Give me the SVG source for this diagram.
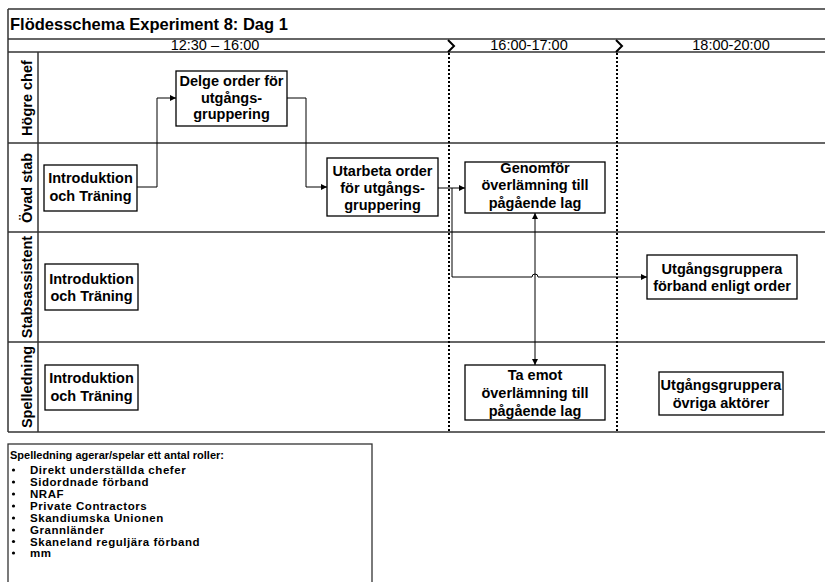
<svg xmlns="http://www.w3.org/2000/svg" width="825" height="582" viewBox="0 0 825 582">
<style>
.frame{stroke:#333;stroke-width:1.5;fill:none}
.dot{stroke:#000;stroke-width:2;stroke-dasharray:2,2;fill:none}
.box{fill:#fff;stroke:#000;stroke-width:1.3}
.conn{stroke:#000;stroke-width:1;fill:none}
.t{font-family:"Liberation Sans",Arial,sans-serif;font-weight:bold;font-size:14.5px;text-anchor:middle;fill:#000}
.lane{font-family:"Liberation Sans",Arial,sans-serif;font-weight:bold;font-size:14.5px;text-anchor:middle;fill:#000}
.hdr{font-family:"Liberation Sans",Arial,sans-serif;font-size:14.5px;text-anchor:middle;fill:#000}
.leg{font-family:"Liberation Sans",Arial,sans-serif;font-weight:bold;font-size:11.5px;letter-spacing:0.55px;fill:#000}
</style>
<defs>
<marker id="arr" markerUnits="userSpaceOnUse" markerWidth="7" markerHeight="6" refX="6" refY="3" orient="auto-start-reverse">
<path d="M0,0 L6,3 L0,6 z" fill="#000"/>
</marker>
</defs>
<rect width="825" height="582" fill="#fff"/>
<g id="frame">
<line class="frame" x1="8" y1="9" x2="825" y2="9"/>
<line class="frame" x1="8" y1="9" x2="8" y2="432"/>
<line class="frame" x1="8" y1="39" x2="825" y2="39"/>
<line class="frame" x1="8" y1="52" x2="825" y2="52"/>
<line class="frame" x1="8" y1="143" x2="825" y2="143"/>
<line class="frame" x1="8" y1="232" x2="825" y2="232"/>
<line class="frame" x1="8" y1="342" x2="825" y2="342"/>
<line class="frame" x1="8" y1="432" x2="825" y2="432"/>
<line class="frame" x1="38" y1="52" x2="38" y2="432"/>
<line class="dot" x1="449" y1="53" x2="449" y2="432"/>
<line class="dot" x1="617" y1="53" x2="617" y2="432"/>
<polyline points="448,40 454,46 448,52" fill="none" stroke="#000" stroke-width="2"/>
<polyline points="616,40 622,46 616,52" fill="none" stroke="#000" stroke-width="2"/>
<text x="10" y="30" font-family="Liberation Sans, Arial, sans-serif" font-weight="bold" font-size="16.5">Flödesschema Experiment 8: Dag 1</text>
<text class="hdr" x="215" y="50">12:30 – 16:00</text>
<text class="hdr" x="529" y="50">16:00-17:00</text>
<text class="hdr" x="731" y="50">18:00-20:00</text>
<text class="lane" transform="translate(32,98) rotate(-90)">Högre chef</text>
<text class="lane" transform="translate(32,188) rotate(-90)">Övad stab</text>
<text class="lane" transform="translate(32,287) rotate(-90)">Stabsassistent</text>
<text class="lane" transform="translate(32,387) rotate(-90)">Spelledning</text>
</g>
<g id="connectors">
<path class="conn" d="M137,187 H157 V98 H176" marker-end="url(#arr)"/>
<path class="conn" d="M287,98 H306 V187 H327" marker-end="url(#arr)"/>
<path class="conn" d="M438,188 H465" marker-end="url(#arr)"/>
<path class="conn" d="M452,188 V277 H532 A3,3 0 0 1 538,277 H647" marker-end="url(#arr)"/>
<path class="conn" d="M535,213 V365" marker-start="url(#arr)" marker-end="url(#arr)"/>
</g>
<g id="n-delge">
<rect class="box" x="176" y="71" width="111" height="55"/>
<text class="t" x="231.5" y="86">Delge order för</text>
<text class="t" x="231.5" y="103">utgångs-</text>
<text class="t" x="231.5" y="119">gruppering</text>
</g>
<g id="n-intro1">
<rect class="box" x="44" y="165" width="93" height="46"/>
<text class="t" x="90.5" y="183">Introduktion</text>
<text class="t" x="90.5" y="201">och Träning</text>
</g>
<g id="n-utarbeta">
<rect class="box" x="327" y="158" width="111" height="58"/>
<text class="t" x="382.5" y="176">Utarbeta order</text>
<text class="t" x="382.5" y="193">för utgångs-</text>
<text class="t" x="382.5" y="210">gruppering</text>
</g>
<g id="n-genomfor">
<rect class="box" x="465" y="162" width="140" height="51"/>
<text class="t" x="535" y="173">Genomför</text>
<text class="t" x="535" y="190">överlämning till</text>
<text class="t" x="535" y="208">pågående lag</text>
</g>
<g id="n-intro2">
<rect class="box" x="45" y="264" width="93" height="46"/>
<text class="t" x="91.5" y="284">Introduktion</text>
<text class="t" x="91.5" y="301">och Träning</text>
</g>
<g id="n-forband">
<rect class="box" x="647" y="255" width="150" height="44"/>
<text class="t" x="722" y="274">Utgångsgruppera</text>
<text class="t" x="722" y="291">förband enligt order</text>
</g>
<g id="n-intro3">
<rect class="box" x="45" y="365" width="93" height="45"/>
<text class="t" x="91.5" y="383">Introduktion</text>
<text class="t" x="91.5" y="401">och Träning</text>
</g>
<g id="n-taemot">
<rect class="box" x="465" y="365" width="140" height="55"/>
<text class="t" x="535" y="380">Ta emot</text>
<text class="t" x="535" y="398">överlämning till</text>
<text class="t" x="535" y="416">pågående lag</text>
</g>
<g id="n-ovriga">
<rect class="box" x="659" y="372" width="124" height="43"/>
<text class="t" x="721" y="390">Utgångsgruppera</text>
<text class="t" x="721" y="408">övriga aktörer</text>
</g>
<g id="legend">
<rect x="8" y="444" width="364" height="150" fill="#fff" stroke="#333" stroke-width="1.3"/>
<text class="leg" x="10" y="459" style="letter-spacing:0;font-size:11px">Spelledning agerar/spelar ett antal roller:</text>
<g fill="#000">
<circle cx="13.5" cy="470" r="1.6"/>
<circle cx="13.5" cy="482" r="1.6"/>
<circle cx="13.5" cy="494" r="1.6"/>
<circle cx="13.5" cy="506" r="1.6"/>
<circle cx="13.5" cy="518" r="1.6"/>
<circle cx="13.5" cy="530" r="1.6"/>
<circle cx="13.5" cy="541.5" r="1.6"/>
<circle cx="13.5" cy="553" r="1.6"/>
</g>
<text class="leg" x="30" y="474">Direkt underställda chefer</text>
<text class="leg" x="30" y="486">Sidordnade förband</text>
<text class="leg" x="30" y="498">NRAF</text>
<text class="leg" x="30" y="510">Private Contractors</text>
<text class="leg" x="30" y="522">Skandiumska Unionen</text>
<text class="leg" x="30" y="534">Grannländer</text>
<text class="leg" x="30" y="545.5">Skaneland reguljära förband</text>
<text class="leg" x="30" y="557">mm</text>
</g>
</svg>
